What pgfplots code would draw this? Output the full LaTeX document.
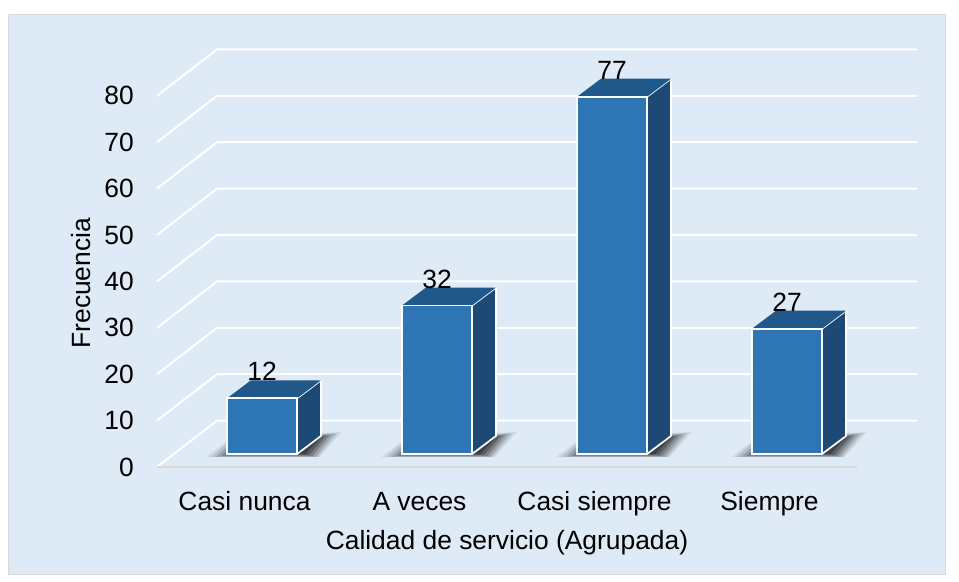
\documentclass[border=0pt]{standalone}
\usepackage{pgfplots}
\pgfplotsset{compat=1.18}
\usepackage{fontspec}
\setmainfont{Liberation Sans}
\definecolor{panel}{HTML}{DEEAF6}
\definecolor{front}{HTML}{2E75B6}
\definecolor{topf}{HTML}{21588A}
\definecolor{sidef}{HTML}{1C4A75}
\definecolor{floorc}{HTML}{D9D9D9}
\begin{document}
\begin{tikzpicture}[x=1bp,y=1bp]
\path[use as bounding box,fill=white] (0,0) rectangle (959,-582);
\fill[panel,draw=floorc,line width=0.75bp] (8.5,-14.5) rectangle (945.5,-574.5);
\begin{axis}[
  at={(157bp,-467bp)},anchor=south west,
  x=175bp,y=4.64bp,
  xmin=-0.5,xmax=3.5,ymin=0,ymax=80,
  clip=false,
  axis lines*=left,
  axis line style={-,draw=none},
  major tick length=0pt,
  xtick={0,1,2,3},
  xticklabels={Casi nunca,A veces,Casi siempre,Siempre},
  ytick={0,10,...,80},
  tick label style={font=\fontsize{26.4bp}{30bp}\selectfont},
  label style={font=\fontsize{26.4bp}{30bp}\selectfont},
  /pgf/number format/assume math mode=true,
  yticklabel style={anchor=east,xshift=-23bp,inner sep=0pt},
  xticklabel style={anchor=base,yshift=-43bp,inner sep=0pt},
  xlabel={Calidad de servicio (Agrupada)},
  ylabel={Frecuencia},
  xlabel style={at={(axis description cs:0.5,-0.203)},anchor=center,inner sep=0pt},
  ylabel style={at={(axis description cs:-0.1086,0.495)},anchor=center,inner sep=0pt},
]
% gridlines
\pgfplotsinvokeforeach{0,10,20,30,40,50,60,70,80}{
  \addplot[white,line width=2bp,line join=miter] coordinates {(-0.5,#1) (-0.157,#1+10) (3.843,#1+10)};
}
\addplot[floorc,line width=2bp] coordinates {(-0.5,0) (3.5,0)};
% shadows: nested soft layers
\pgfplotsinvokeforeach{0,1,2,3}{
  \addplot[draw=none,fill=black,fill opacity=0.08,xshift=#1*175bp] coordinates {(-0.217,2.16) (-0.074,6.25) (0.554,7.54) (0.429,2.16)} --cycle;
  \addplot[draw=none,fill=black,fill opacity=0.11,xshift=#1*175bp] coordinates {(-0.189,2.16) (-0.063,6.25) (0.531,7.33) (0.417,2.16)} --cycle;
  \addplot[draw=none,fill=black,fill opacity=0.15,xshift=#1*175bp] coordinates {(-0.160,2.26) (-0.051,6.03) (0.509,7.11) (0.406,2.26)} --cycle;
  \addplot[draw=none,fill=black,fill opacity=0.20,xshift=#1*175bp] coordinates {(-0.131,2.37) (-0.040,5.82) (0.486,6.90) (0.389,2.37)} --cycle;
  \addplot[draw=none,fill=black,fill opacity=0.25,xshift=#1*175bp] coordinates {(-0.109,2.59) (-0.029,5.60) (0.463,6.68) (0.371,2.59)} --cycle;
  \addplot[draw=none,fill=black,fill opacity=0.30,xshift=#1*175bp] coordinates {(-0.086,2.80) (-0.017,5.40) (0.440,6.47) (0.349,2.80)} --cycle;
}
% value labels (behind the bars)
\addplot[draw=none,mark=none,
  nodes near coords,
  every node near coord/.style={anchor=base,yshift=30.5bp,xshift=17.5bp,inner sep=0pt,text=black,font=\fontsize{26.4bp}{30bp}\selectfont},
  /pgf/number format/assume math mode=true,
  point meta=y]
  coordinates {(0,12) (1,32) (2,77) (3,27)};
% side faces
\addplot[fill=sidef,draw=white,line width=1.7bp,line join=round,xshift=17.5bp,yshift=13bp] coordinates {(0.2,0) (0.337,3.88) (0.337,15.88) (0.2,12)} --cycle;
\addplot[fill=sidef,draw=white,line width=1.7bp,line join=round,xshift=17.5bp,yshift=13bp] coordinates {(1.2,0) (1.337,3.88) (1.337,35.88) (1.2,32)} --cycle;
\addplot[fill=sidef,draw=white,line width=1.7bp,line join=round,xshift=17.5bp,yshift=13bp] coordinates {(2.2,0) (2.337,3.88) (2.337,80.88) (2.2,77)} --cycle;
\addplot[fill=sidef,draw=white,line width=1.7bp,line join=round,xshift=17.5bp,yshift=13bp] coordinates {(3.2,0) (3.337,3.88) (3.337,30.88) (3.2,27)} --cycle;
% top faces
\addplot[fill=topf,draw=none,xshift=17.5bp,yshift=13bp] coordinates {(-0.2,12) (-0.063,15.88) (0.337,15.88) (0.2,12)} --cycle;
\addplot[fill=topf,draw=none,xshift=17.5bp,yshift=13bp] coordinates {(0.8,32) (0.937,35.88) (1.337,35.88) (1.2,32)} --cycle;
\addplot[fill=topf,draw=none,xshift=17.5bp,yshift=13bp] coordinates {(1.8,77) (1.937,80.88) (2.337,80.88) (2.2,77)} --cycle;
\addplot[fill=topf,draw=none,xshift=17.5bp,yshift=13bp] coordinates {(2.8,27) (2.937,30.88) (3.337,30.88) (3.2,27)} --cycle;
% front faces
\addplot[ybar,bar width=70bp,bar shift=0pt,fill=front,draw=white,line width=1.7bp,xshift=17.5bp,yshift=13bp]
  coordinates {(0,12) (1,32) (2,77) (3,27)};
\end{axis}
\end{tikzpicture}
\end{document}
